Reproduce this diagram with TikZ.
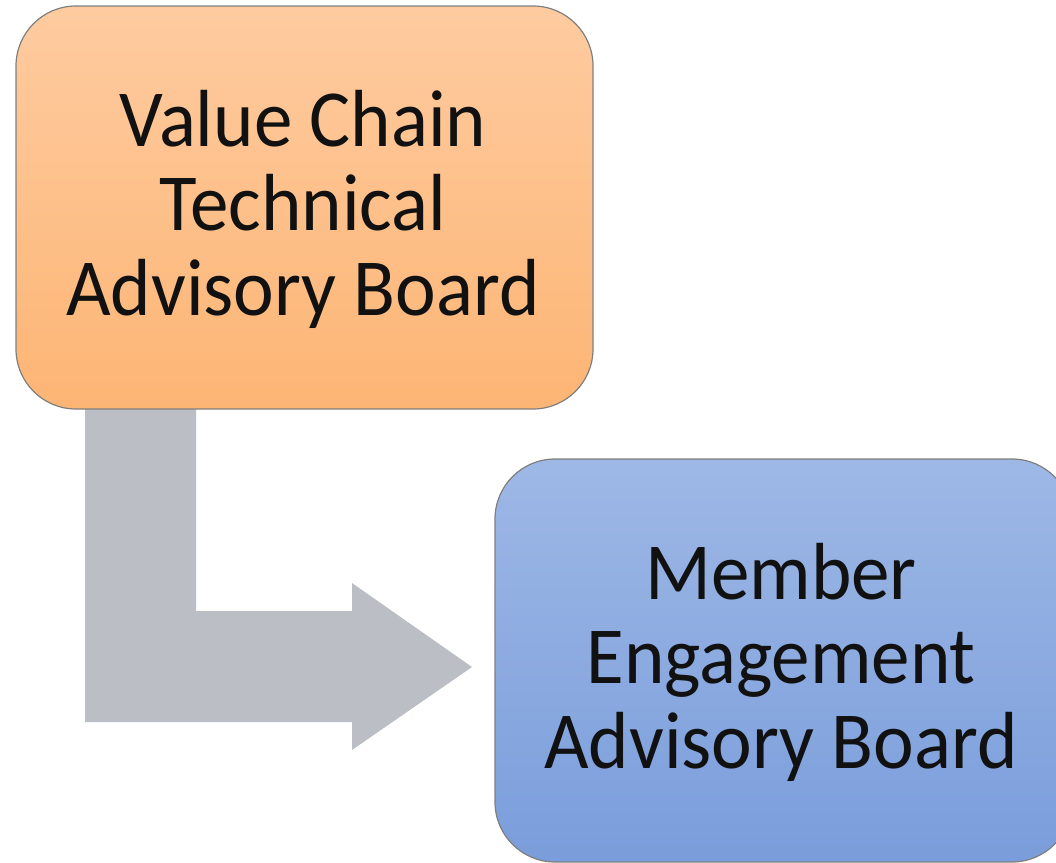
\documentclass[tikz,border=0pt]{standalone}
\usepackage{fontspec}
\setmainfont{Carlito}[FakeStretch=0.951]
\begin{document}
\begin{tikzpicture}[x=1pt,y=-1pt,
  board/.style={draw=boardedge, line width=1.2pt, rounded corners=60pt,
    minimum width=577pt, minimum height=403pt, inner sep=0pt},
  orangeboard/.style={board, top color=orangetop, bottom color=orangebot},
  blueboard/.style={board, top color=bluetop, bottom color=bluebot},
  boardtext/.style={align=center, inner sep=0pt, anchor=base, text=textblack,
    font=\fontsize{81}{84.5}\selectfont}]
\definecolor{boardedge}{HTML}{7F7F7F}
\definecolor{orangetop}{HTML}{FECBA0}
\definecolor{orangebot}{HTML}{FDB574}
\definecolor{bluetop}{HTML}{9EB8E6}
\definecolor{bluebot}{HTML}{7A9DDB}
\definecolor{arrowgray}{HTML}{BBBEC5}
\definecolor{textblack}{HTML}{111111}
\useasboundingbox (0,0) rectangle (1056,862);
\clip (0,0) rectangle (1056,862);
% bent arrow
\coordinate (s1) at (85,409);
\coordinate (s2) at (196,409);
\coordinate (tip) at (472,667);
\fill[arrowgray] (s1) -- (s2) -- (196,611) -- (352,611) -- (352,583)
  -- (tip) -- (352,750) -- (352,722) -- (85,722) -- cycle;
\node[orangeboard] (vc) at (304.5,207.5) {};
\node[blueboard] (me) at (783.5,660.5) {};
\node[boardtext] (vct) at (303,315) {Value Chain\\Technical\\Advisory Board};
\node[boardtext] (met) at (781,768) {Member\\Engagement\\Advisory Board};
\end{tikzpicture}
\end{document}
